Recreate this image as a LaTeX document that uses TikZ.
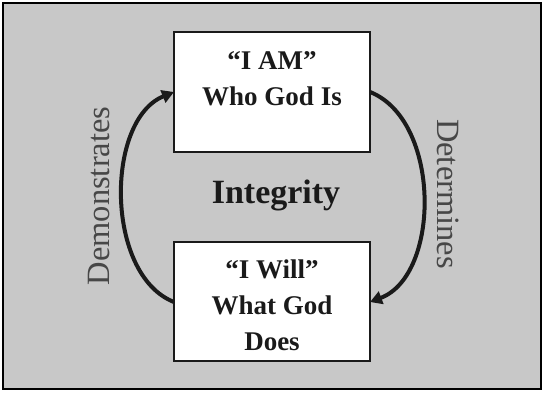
\documentclass[tikz,border=0pt]{standalone}
\usepackage{fontspec}
\setmainfont{Liberation Serif}
\usetikzlibrary{arrows.meta}
\definecolor{panelgray}{HTML}{C8C8C8}
\definecolor{inkgray}{HTML}{1A1A1A}
\begin{document}
\begin{tikzpicture}[x=1pt,y=-1pt,
  statebox/.style={draw=inkgray,line width=2pt,fill=white,minimum width=196pt,minimum height=119pt,inner sep=0pt},
  boxtext/.style={font=\bfseries\fontsize{27}{36}\selectfont,text=inkgray,align=center},
  cycle/.style={draw=inkgray,line width=4pt,-{Triangle[length=12pt,width=13pt]}},
  sidelabel/.style={font=\fontsize{32.5}{32.5}\selectfont,text=black!72}]
  % panel
  \useasboundingbox (0,0) rectangle (545,393);
  \draw[fill=panelgray,line width=2pt] (3,3) rectangle (541,389);
  % the two states
  \node[statebox] (am) at (272,92) {};
  \node[statebox] (will) at (272,301.5) {};
  \node[boxtext] (amtext) at (272,79) {``I AM''\\Who God Is};
  \node[boxtext] (willtext) at (272,305) {``I Will''\\What God\\Does};
  \node[font=\bfseries\fontsize{34}{34}\selectfont,text=inkgray] (integrity) at (276,195) {Integrity};
  % the cycle between them
  \coordinate (amw) at (174,92);
  \coordinate (ame) at (370,92);
  \coordinate (willw) at (174,302);
  \coordinate (wille) at (370,302);
  \draw[cycle] (willw) .. controls (105,275) and (105,120) .. (amw);
  \draw[cycle] (ame) .. controls (441,120) and (441,275) .. (wille);
  \node[sidelabel,rotate=90] (demo) at (99,196) {Demonstrates};
  \node[sidelabel,rotate=-90] (det) at (448,194) {Determines};
\end{tikzpicture}
\end{document}
